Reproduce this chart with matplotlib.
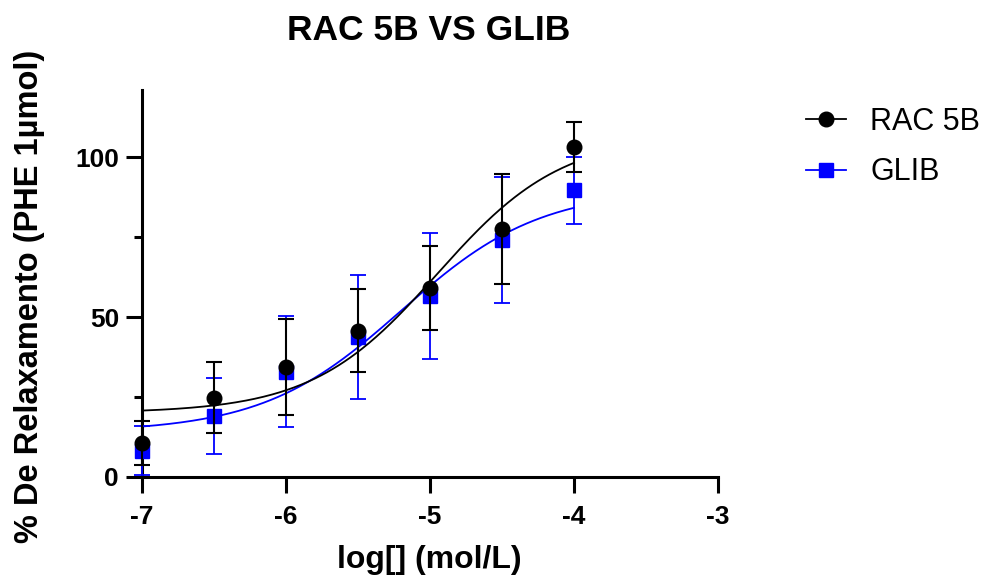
import numpy as np
import matplotlib
matplotlib.use("Agg")
import matplotlib.pyplot as plt
from matplotlib.ticker import FixedLocator

plt.rcParams['font.family'] = ['Liberation Sans', 'DejaVu Sans']
plt.rcParams['axes.unicode_minus'] = False

# ---- data ----
log_conc = [-7.0, -6.5, -6.0, -5.5, -5.0, -4.5, -4.0]
rac_mean = [10.7, 24.8, 34.3, 45.7, 59.1, 77.6, 103.2]
rac_err = [6.8, 11.0, 15.0, 13.0, 13.0, 17.2, 7.7]
glib_mean = [8.2, 19.1, 32.9, 43.9, 56.6, 74.1, 89.7]
glib_err = [7.6, 12.0, 17.3, 19.4, 19.8, 19.8, 10.5]
# fitted 4-parameter logistic: bottom, top, logEC50, hill slope
rac_fit = [20.0, 107.0, -4.95, 1.0]
glib_fit = [14.0, 90.0, -5.2, 0.9]

series_names = ["RAC 5B", "GLIB"]
x_ticks = [-7, -6, -5, -4, -3]
x_tick_labels = ["-7", "-6", "-5", "-4", "-3"]
y_ticks = [0, 50, 100]
y_minor = [25, 75]


def four_pl(x, p):
    b, t, ec, h = p
    return b + (t - b) / (1.0 + 10 ** ((ec - x) * h))


W, H = 984, 578
fig = plt.figure(figsize=(W / 100, H / 100), dpi=100)
ax = fig.add_axes([142 / W, 1 - 477 / H, 576 / W, (477 - 90) / H])

xs = np.linspace(log_conc[0], log_conc[-1], 300)

# GLIB (under)
ax.plot(xs, four_pl(xs, glib_fit), color='#0000ff', lw=1.3, zorder=2)
ax.errorbar(log_conc, glib_mean, yerr=glib_err, fmt='s', color='#0000ff',
            ecolor='#0000ff', elinewidth=1.3, capsize=5.8, capthick=1.3,
            markersize=10.5, zorder=3, clip_on=False)
# RAC 5B (over)
ax.plot(xs, four_pl(xs, rac_fit), color='black', lw=1.3, zorder=4)
ax.errorbar(log_conc, rac_mean, yerr=rac_err, fmt='o', color='black',
            ecolor='black', elinewidth=1.5, capsize=5.8, capthick=1.5,
            markersize=10.5, zorder=5, clip_on=False)

ax.set_xlim(-7, -3)
ax.set_ylim(0, 121)
ax.spines['top'].set_visible(False)
ax.spines['right'].set_visible(False)
for s in ['left', 'bottom']:
    ax.spines[s].set_linewidth(2.2)
ax.set_xticks(x_ticks)
ax.set_xticklabels(x_tick_labels)
ax.set_yticks(y_ticks)
ax.set_yticklabels([str(v) for v in y_ticks])
ax.yaxis.set_minor_locator(FixedLocator(y_minor))
ax.tick_params(axis='both', which='major', length=11.5, width=2.2,
               labelsize=19, pad=5)
ax.tick_params(axis='x', which='major', pad=9)
ax.tick_params(axis='y', which='minor', length=6, width=2.2)
for lab in ax.get_xticklabels() + ax.get_yticklabels():
    lab.set_fontweight('bold')

# legend
h_rac = plt.Line2D([], [], color='black', marker='o', markersize=10.5, lw=1.3)
h_glib = plt.Line2D([], [], color='#0000ff', marker='s', markersize=10.5, lw=1.3)
fig.legend([h_rac, h_glib], series_names, loc='upper left',
           bbox_to_anchor=(806 / W, 1 - 107 / H), frameon=False,
           fontsize=22, handlelength=1.3, handletextpad=0.8,
           labelspacing=0.67, borderpad=0, borderaxespad=0)

fig.text(429 / W, 1 - 40 / H, "RAC 5B VS GLIB", ha='center', va='baseline',
         fontsize=25.5, fontweight='bold')
fig.text(30 / W, 1 - 296 / H, "% De Relaxamento (PHE 1µmol)", rotation=90,
         ha='center', va='center', fontsize=23.5, fontweight='bold')
fig.text(429 / W, 1 - 568 / H, "log[] (mol/L)", ha='center', va='baseline',
         fontsize=23, fontweight='bold')

fig.savefig("out.png", dpi=100)
